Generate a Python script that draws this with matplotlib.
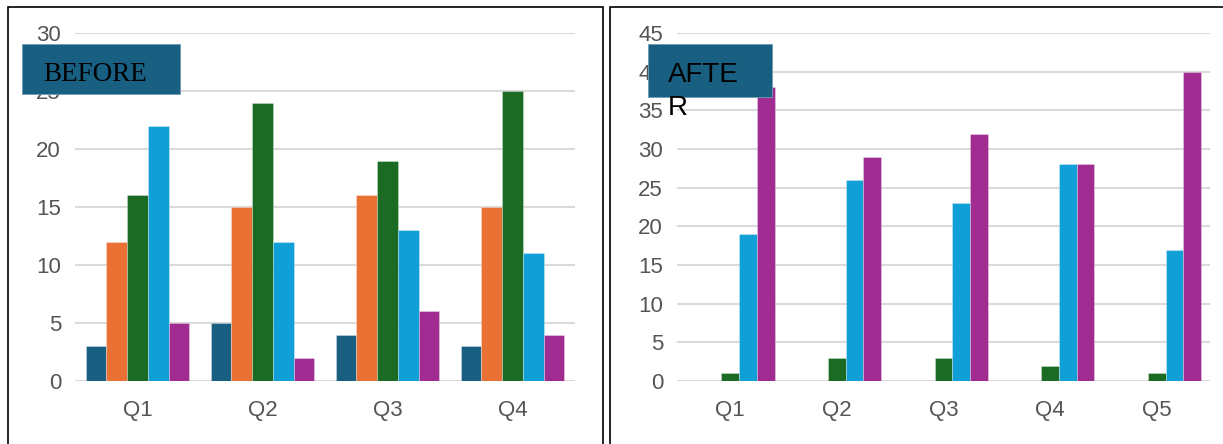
import matplotlib.pyplot as plt
import numpy as np
from matplotlib.patches import Rectangle

# series colours (same order in both panels)
colors = ['#185F82', '#EA7134', '#1B6B25', '#119FD7', '#A02C92']

before_labels = ['Q1', 'Q2', 'Q3', 'Q4']
before_s1 = [3, 5, 4, 3]
before_s2 = [12, 15, 16, 15]
before_s3 = [16, 24, 19, 25]
before_s4 = [22, 12, 13, 11]
before_s5 = [5, 2, 6, 4]

after_labels = ['Q1', 'Q2', 'Q3', 'Q4', 'Q5']
after_s1 = [0, 0, 0, 0, 0]
after_s2 = [0, 0, 0, 0, 0]
after_s3 = [1, 3, 3, 2, 1]
after_s4 = [19, 26, 23, 28, 17]
after_s5 = [38, 29, 32, 28, 40]

plt.rcParams['font.family'] = ['Liberation Sans', 'DejaVu Sans']

fig = plt.figure(figsize=(12.23, 4.44), dpi=100)
W, H = 1223, 444


def px_axes(x0, x1, y0, y1):
    # pixel box (top-left origin) -> figure axes
    return fig.add_axes([x0 / W, 1 - y1 / H, (x1 - x0) / W, (y1 - y0) / H])


def draw_bars(ax, labels, series, ymax):
    n = len(series)
    w = 0.166
    x = np.arange(len(labels))
    for i, vals in enumerate(series):
        ax.bar(x + (i - (n - 1) / 2) * w, vals, w, color=colors[i],
               edgecolor=(1, 1, 1, 0.35), linewidth=0.6, zorder=3)
    ax.set_xlim(-0.5, len(labels) - 0.5)
    ax.set_ylim(0, ymax)
    ax.set_yticks(np.arange(0, ymax + 1, 5))
    ax.set_xticks(x)
    ax.set_xticklabels(labels)
    ax.grid(axis='y', color='#DADADA', linewidth=1.5, zorder=0)
    for s in ax.spines.values():
        s.set_visible(False)
    ax.tick_params(axis='both', length=0, labelsize=16, labelcolor='#555555')
    ax.tick_params(axis='x', pad=14)
    ax.tick_params(axis='y', pad=10)
    ax.set_facecolor('none')


ax1 = px_axes(75, 575, 33, 381)
draw_bars(ax1, before_labels,
          [before_s1, before_s2, before_s3, before_s4, before_s5], 30)

ax2 = px_axes(677, 1210, 33, 381)
draw_bars(ax2, after_labels,
          [after_s1, after_s2, after_s3, after_s4, after_s5], 45)

# panel frames
def px_rect(x0, y0, x1, y1, **kw):
    fig.patches.append(Rectangle((x0 / W, 1 - y1 / H), (x1 - x0) / W, (y1 - y0) / H,
                                 transform=fig.transFigure, **kw))


px_rect(8, 7, 603, 460, fill=False, edgecolor='black', linewidth=1.2)
px_rect(610, 7, 1240, 460, fill=False, edgecolor='black', linewidth=1.2)

# label boxes
px_rect(22, 44, 180, 94, facecolor='#185F82', edgecolor='#6F9BB3', linewidth=0.6, zorder=5)
fig.text(43 / W, 1 - 81 / H, 'BEFORE', fontsize=19.5, family='Liberation Serif',
         color='black', va='baseline', zorder=6)

px_rect(648, 44, 772, 97, facecolor='#185F82', edgecolor='#6F9BB3', linewidth=0.6, zorder=5)
fig.text(668 / W, 1 - 82 / H, 'AFTE', fontsize=20, color='black', va='baseline', zorder=6)
fig.text(668 / W, 1 - 115 / H, 'R', fontsize=20, color='black', va='baseline', zorder=6)

fig.savefig('out.png', dpi=100)
